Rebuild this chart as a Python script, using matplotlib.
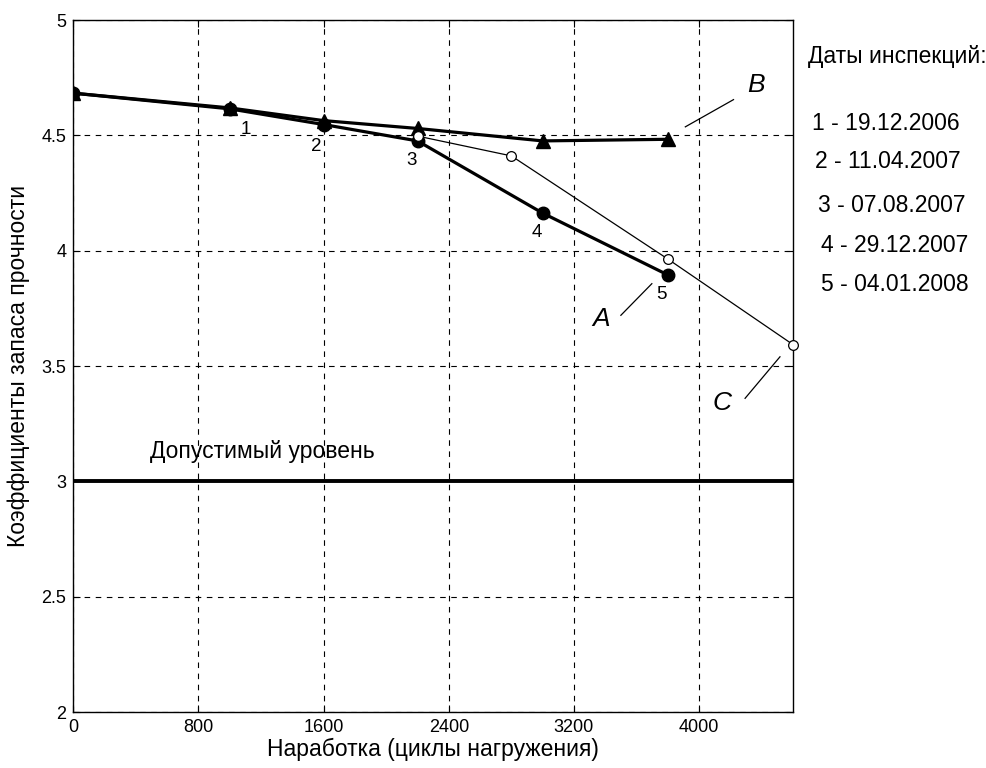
import matplotlib
matplotlib.use("Agg")
import matplotlib.pyplot as plt

plt.rcParams['font.family'] = ['Liberation Sans', 'DejaVu Sans']

# curve A - filled circles
a_x = [0, 1000, 1600, 2200, 3000, 3800]
a_y = [4.683, 4.615, 4.547, 4.476, 4.163, 3.895]
# curve B - triangles
b_x = [0, 1000, 1600, 2200, 3000, 3800]
b_y = [4.683, 4.619, 4.564, 4.530, 4.476, 4.483]
# curve C - open circles
c_x = [2200, 2800, 3800, 4600]
c_y = [4.497, 4.411, 3.964, 3.593]

allowed = 3.0
point_labels = ['1', '2', '3', '4', '5']
dates = ['19.12.2006', '11.04.2007', '07.08.2007', '29.12.2007', '04.01.2008']
xticks = [0, 800, 1600, 2400, 3200, 4000]
yticks = [2, 2.5, 3, 3.5, 4, 4.5, 5]

fig = plt.figure(figsize=(9.87, 7.68), dpi=100)
ax = fig.add_axes([0.0743, 0.0729, 0.7291, 0.9010])

ax.plot(b_x, b_y, color='black', lw=2.3, marker='^', ms=10, zorder=3)
ax.plot(c_x, c_y, color='black', lw=0.9, marker='o', ms=7,
        mfc='white', mec='black', mew=0.9, zorder=4, clip_on=False)
ax.plot(a_x, a_y, color='black', lw=2.3, marker='o', ms=9, zorder=3)
ax.axhline(allowed, color='black', lw=2.8, zorder=2)

ax.set_xlim(0, 4600)
ax.set_ylim(2, 5)
ax.set_xticks(xticks)
ax.set_yticks(yticks)
ax.set_yticklabels(['2', '2.5', '3', '3.5', '4', '4.5', '5'])
ax.tick_params(direction='in', top=True, right=True, labelsize=13, length=5, pad=5)
ax.grid(True, color='black', ls=(0, (5, 5)), lw=0.8)
for s in ax.spines.values():
    s.set_linewidth(1.0)

ax.set_xlabel('Наработка (циклы нагружения)', fontsize=16.5, labelpad=1)
ax.set_ylabel('Коэффициенты запаса прочности', fontsize=16.5, labelpad=8)

# point numbers
num_pos = [(1100, 4.526), (1550, 4.45), (2160, 4.39), (2960, 4.077), (3760, 3.81)]
for t, (px, py) in zip(point_labels, num_pos):
    ax.text(px, py, t, fontsize=13.5, ha='center', va='center')

ax.text(490, 3.08, 'Допустимый уровень', fontsize=16.5, ha='left', va='bottom')

# curve letters with leader lines
ax.text(3372, 3.706, 'A', fontsize=19, style='italic', ha='center', va='center')
ax.plot([3500, 3698], [3.72, 3.857], color='black', lw=0.9)
ax.text(4366, 4.72, 'B', fontsize=19, style='italic', ha='center', va='center')
ax.plot([3912, 4220], [4.537, 4.655], color='black', lw=0.9)
ax.text(4144, 3.338, 'C', fontsize=19, style='italic', ha='center', va='center')
ax.plot([4294, 4517], [3.36, 3.54], color='black', lw=0.9)

# inspection dates list
fig.text(808 / 987, 1 - 57 / 768, 'Даты инспекций:', fontsize=16.5, ha='left', va='center')
date_xy = [(812, 124), (815, 162), (818, 205), (821, 245), (821, 284)]
for t, d, (px, py) in zip(point_labels, dates, date_xy):
    fig.text(px / 987, 1 - py / 768, t + ' - ' + d, fontsize=16.5, ha='left', va='center')

fig.savefig('out.png', dpi=100)
